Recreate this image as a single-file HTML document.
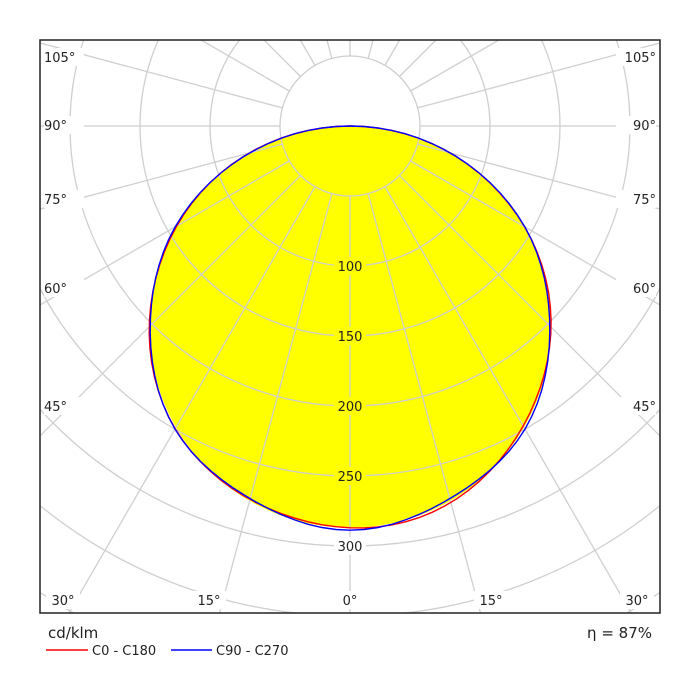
<!DOCTYPE html><html><head><style>html,body{margin:0;width:700px;height:700px;overflow:hidden;background:#fff}svg{display:block}text{font-family:"DejaVu Sans","Liberation Sans",sans-serif;font-size:13px;fill:#222}</style></head><body>
<svg id="s" width="700" height="700" viewBox="0 0 700 700">
<defs><clipPath id="c"><rect x="40" y="40" width="620" height="573"/></clipPath></defs>
<rect x="0" y="0" width="700" height="700" fill="#fff"/>
<g id="g" clip-path="url(#c)"></g>
<rect x="40" y="40" width="620" height="573" fill="none" stroke="#222" stroke-width="1.5"/>
<text x="48" y="638" style="font-size:15px">cd/klm</text>
<line x1="46" y1="650" x2="88" y2="650" stroke="red" stroke-width="1.5"/>
<text x="92" y="655">C0 - C180</text>
<line x1="171" y1="650" x2="212" y2="650" stroke="blue" stroke-width="1.5"/>
<text x="216" y="655">C90 - C270</text>
<text x="652" y="638" text-anchor="end" style="font-size:15px">η = 87%</text>
</svg>
<script>
const g=document.getElementById('g'),NS='http://www.w3.org/2000/svg';
const cx=350,cy=126,k=1.4;
function el(t,a,p){const e=document.createElementNS(NS,t);for(const q in a)e.setAttribute(q,a[q]);(p||g).appendChild(e);return e;}
function pts(f){let s=[];for(let a=-90;a<=90;a+=2){const t=a*Math.PI/180,r=f(a)*k;s.push((cx+r*Math.sin(t)).toFixed(1)+','+(cy+r*Math.cos(t)).toFixed(1));}return s.join(' ');}
const base=a=>287*Math.cos(a*Math.PI/180);
el('polygon',{points:pts(base),fill:'#ffff00'});
for(let r=50;r<=550;r+=50)el('circle',{cx,cy,r:r*k,fill:'none',stroke:'#cfcfcf','stroke-width':1.3});
for(let a=-180;a<180;a+=15){const t=a*Math.PI/180;el('line',{x1:cx+70*Math.sin(t),y1:cy+70*Math.cos(t),x2:cx+1200*Math.sin(t),y2:cy+1200*Math.cos(t),stroke:'#cfcfcf','stroke-width':1.3});}
el('polyline',{points:pts(a=>base(a)*(1+0.005*Math.sin(a/7))),fill:'none',stroke:'red','stroke-width':1.4});
el('polyline',{points:pts(a=>base(a)*(1+0.006*Math.cos(a/5))),fill:'none',stroke:'blue','stroke-width':1.4});
[[100,266],[150,336],[200,406],[250,476],[300,546]].forEach(([v,y])=>{el('rect',{x:334,y:y-9,width:32,height:18,fill:v==300?'#fff':'#ffff00'});const t=el('text',{x:350,y:y+5,'text-anchor':'middle'});t.textContent=v;});
const L=[[105,57],[90,125],[75,199],[60,288],[45,406]];
L.forEach(([a,y])=>{[[63,'start',44],[637,'end',656]].forEach(([x,an,xx])=>{el('rect',{x:an=='start'?44:616,y:y-9,width:40,height:18,fill:'#fff'});const t=el('text',{x:xx,y:y+5,'text-anchor':an});t.textContent=a+'°';});});
[[63,'30°'],[209,'15°'],[350,'0°'],[491,'15°'],[637,'30°']].forEach(([x,s])=>{el('rect',{x:x-17,y:591,width:34,height:18,fill:'#fff'});const t=el('text',{x,y:605,'text-anchor':'middle'});t.textContent=s;});
</script>
</body></html>
